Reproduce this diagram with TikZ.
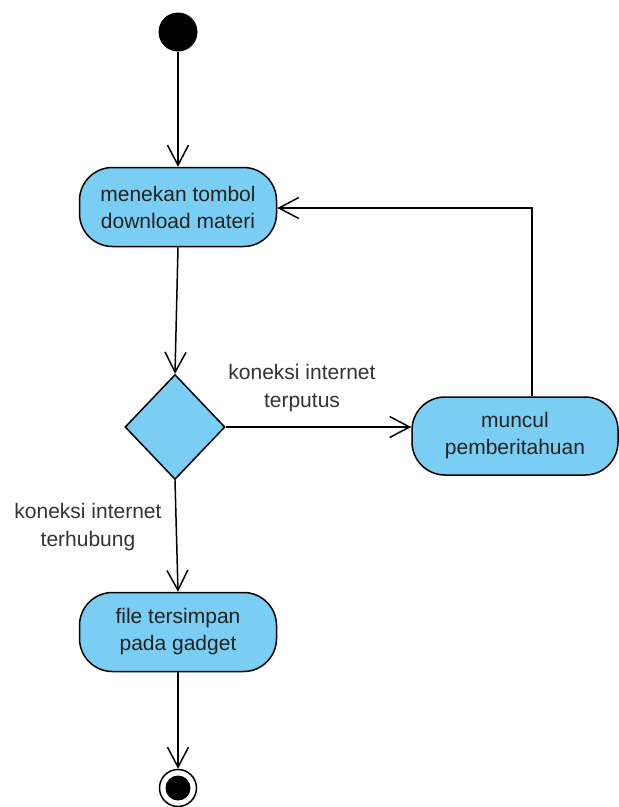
\documentclass[tikz,border=0pt]{standalone}
\usepackage{fontspec}
\setmainfont{Liberation Sans}
\usetikzlibrary{arrows.meta,shapes.geometric}
\definecolor{actfill}{HTML}{7ACEF4}
\definecolor{txt}{HTML}{222222}
\definecolor{lbl}{HTML}{333333}
\tikzset{
  act/.style={draw=black, line width=1.5pt, fill=actfill, rounded corners=33pt,
    minimum width=197pt, minimum height=79pt, align=center, text=txt,
    font=\fontsize{21}{27}\selectfont, inner sep=0pt},
  decbox/.style={draw=black, line width=1.5pt, fill=actfill, diamond,
    minimum width=100pt, minimum height=105pt, inner sep=0pt},
  arr/.style={draw=black, line width=1.5pt, -{Straight Barb[length=20pt,width=21pt]}},
  lab/.style={align=center, text=lbl, font=\fontsize{21}{28}\selectfont, inner sep=0pt},
}
\begin{document}
\begin{tikzpicture}[x=1pt,y=-1pt]
\useasboundingbox (0,0) rectangle (619,807);
\node[circle, fill=black, minimum size=39pt, inner sep=0pt] (start) at (178,32) {};
\node[act] (b1) at (178,207) {menekan tombol\\download materi};
\node[decbox] (dec) at (175,427) {};
\node[act, minimum width=206pt, minimum height=78pt] (b2) at (515,436) {muncul\\pemberitahuan};
\node[act] (b3) at (178,632) {file tersimpan\\pada gadget};
\node[circle, draw=black, fill=white, line width=1.5pt, minimum size=37pt, inner sep=0pt] (end) at (178,788) {};
\fill[black] (end.center) circle (12.5pt);
\coordinate (ret) at (532,208);
\draw[arr] (start) -- (b1.north);
\draw[arr] (b1.south) -- (dec.north);
\draw[arr] (dec.east) -- (dec.east -| b2.west);
\draw[arr] (ret |- b2.north) -- (ret) -- (ret -| b1.east);
\draw[arr] (dec.south) -- (b3.north);
\draw[arr] (b3.south) -- (end.north);
\node[lab] (l1) at (302,388) {koneksi internet\\terputus};
\node[lab] (l2) at (88,527) {koneksi internet\\terhubung};
\end{tikzpicture}
\end{document}
